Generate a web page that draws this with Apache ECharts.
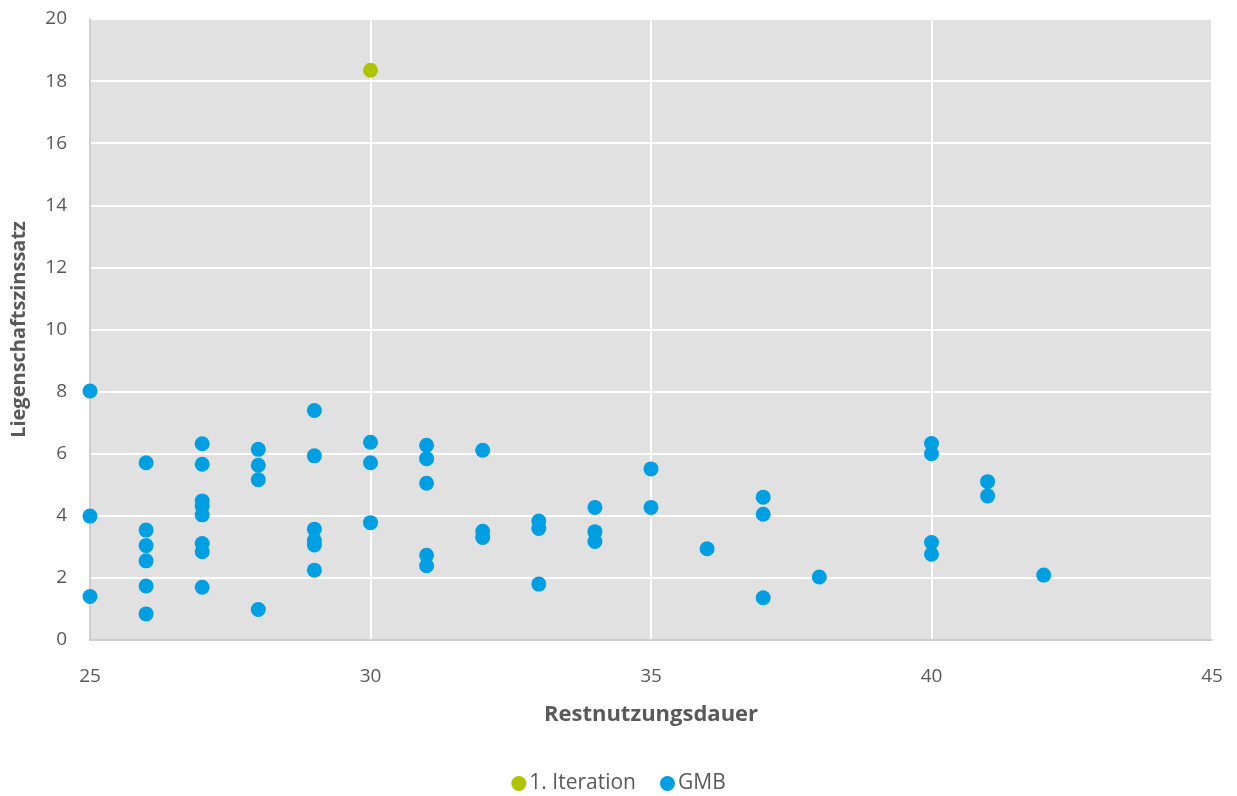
<!DOCTYPE html>
<html>
<head>
<meta charset="utf-8">
<script src="https://cdn.jsdelivr.net/npm/echarts@6/dist/echarts.min.js"></script>
<style>
  html, body { margin: 0; padding: 0; background: #ffffff; }
  #chart { width: 1237px; height: 796px; }
</style>
</head>
<body>
<div id="chart"></div>
<script>
// Restnutzungsdauer (Jahre) und Liegenschaftszinssatz (%)
const iterationX = [30];
const iterationY = [18.35];

const gmbX = [
  25, 25, 25,
  26, 26, 26, 26, 26, 26,
  27, 27, 27, 27, 27, 27, 27, 27,
  28, 28, 28, 28,
  29, 29, 29, 29, 29, 29,
  30, 30, 30,
  31, 31, 31, 31, 31,
  32, 32, 32,
  33, 33, 33,
  34, 34, 34,
  35, 35,
  36,
  37, 37, 37,
  38,
  40, 40, 40, 40,
  41, 41,
  42
];
const gmbY = [
  8.02, 3.99, 1.40,
  5.71, 3.54, 3.04, 2.55, 1.74, 0.84,
  6.32, 5.66, 4.48, 4.30, 4.03, 3.11, 2.84, 1.70,
  6.14, 5.63, 5.16, 0.98,
  7.39, 5.93, 3.57, 3.20, 3.06, 2.25,
  6.37, 5.71, 3.78,
  6.27, 5.84, 5.05, 2.73, 2.39,
  6.11, 3.50, 3.30,
  3.83, 3.59, 1.80,
  4.27, 3.49, 3.17,
  5.51, 4.27,
  2.94,
  4.60, 4.05, 1.36,
  2.03,
  6.33, 6.00, 3.14, 2.76,
  5.10, 4.64,
  2.09
];

const seriesNames = ['1. Iteration', 'GMB'];
const xAxisTitle = 'Restnutzungsdauer';
const yAxisTitle = 'Liegenschaftszinssatz';

const pairs = (xs, ys) => xs.map((x, i) => [x, ys[i]]);

const FONT = '"Open Sans", "Liberation Sans", sans-serif';
const chart = echarts.init(document.getElementById('chart'), null, { renderer: 'canvas' });

chart.setOption({
  animation: false,
  textStyle: { fontFamily: FONT },
  grid: {
    left: 90, right: 25, top: 19, bottom: 156,
    show: true, backgroundColor: '#e1e1e1', borderWidth: 0
  },
  legend: {
    top: 768,
    left: 'center',
    icon: 'circle',
    itemWidth: 15, itemHeight: 15, itemGap: 24,
    textStyle: { fontFamily: FONT, fontSize: 21, color: '#595959', padding: [0, 0, 0, -2] },
    data: seriesNames
  },
  xAxis: {
    type: 'value',
    min: 25, max: 45, interval: 5,
    name: xAxisTitle,
    nameLocation: 'middle',
    nameGap: 64,
    nameTextStyle: { fontFamily: FONT, fontSize: 22, fontWeight: 'bold', color: '#595959' },
    axisLine: { show: true, onZero: false, lineStyle: { color: '#bfbfbf', width: 1.5 } },
    axisTick: { show: false },
    axisLabel: { fontFamily: FONT, fontSize: 19, color: '#595959', margin: 27 },
    splitLine: { show: true, lineStyle: { color: '#ffffff', width: 2 } }
  },
  yAxis: {
    type: 'value',
    min: 0, max: 20, interval: 2,
    name: yAxisTitle,
    nameLocation: 'middle',
    nameGap: 61,
    nameRotate: 90,
    nameTextStyle: { fontFamily: FONT, fontSize: 20, fontWeight: 'bold', color: '#595959' },
    axisLine: { show: true, lineStyle: { color: '#bfbfbf', width: 1.5 } },
    axisTick: { show: false },
    axisLabel: { fontFamily: FONT, fontSize: 19, color: '#595959', margin: 23 },
    splitLine: { show: true, lineStyle: { color: '#ffffff', width: 2 } }
  },
  series: [
    {
      name: seriesNames[0],
      type: 'scatter',
      symbol: 'circle',
      symbolSize: 15,
      itemStyle: { color: '#afc400', opacity: 1 },
      data: pairs(iterationX, iterationY)
    },
    {
      name: seriesNames[1],
      type: 'scatter',
      symbol: 'circle',
      symbolSize: 15,
      itemStyle: { color: '#009fe3', opacity: 1 },
      data: pairs(gmbX, gmbY)
    }
  ]
});
</script>
</body>
</html>
